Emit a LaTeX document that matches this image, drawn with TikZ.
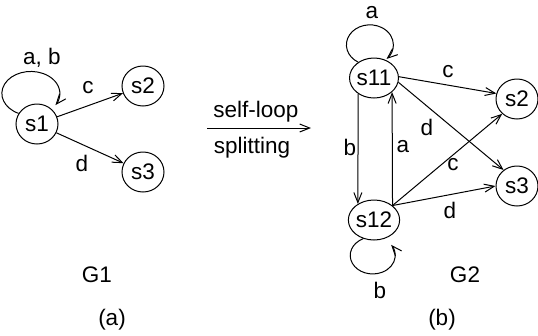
\documentclass[tikz,border=0pt]{standalone}
\usepackage{fontspec}
\setmainfont{Liberation Sans}
\usetikzlibrary{arrows.meta,shapes.geometric}

\tikzset{
  state/.style={draw, ellipse, minimum width=42pt, minimum height=40pt, inner sep=0pt,
    font=\fontsize{22.5}{27}\selectfont},
  lbl/.style={inner sep=0pt, font=\fontsize{22.5}{27}\selectfont},
  arr/.style={-{Straight Barb[length=10pt,width=8pt]}},
}

\begin{document}
\begin{tikzpicture}[x=1pt, y=-1pt, line width=1pt]
  \useasboundingbox (0,0) rectangle (538,335);

  % ---- G1 ----
  \node[state] (s1)  at (37,124) {s1};
  \node[state] (g1s2) at (143,86) {s2};
  \node[state] (g1s3) at (143,172) {s3};

  \draw[arr] (s1.150) arc[start angle=245, end angle=-32, x radius=29, y radius=-22];
  \draw[arr] (s1) -- (g1s2);
  \draw[arr] (s1) -- (g1s3);

  \node[lbl] (lab) at (42,58) {a, b};
  \node[lbl] (lc)  at (88,88) {c};
  \node[lbl] (ld)  at (82,163) {d};
  \node[lbl] (g1)  at (97,275) {G1};
  \node[lbl] (pa)  at (112,320) {(a)};

  % ---- transformation arrow ----
  \coordinate (tfrom) at (207,128);
  \coordinate (tto)   at (311,128);
  \draw[arr] (tfrom) -- (tto);
  \node[lbl] (tself)  at (256,112) {self-loop};
  \node[lbl] (tsplit) at (252,148) {splitting};

  % ---- G2 ----
  \node[state] (s11) at (374,78) {s11};
  \node[state] (s12) at (374,220) {s12};
  \node[state] (g2s2) at (517,99) {s2};
  \node[state] (g2s3) at (517,186) {s3};

  \draw[arr] (s11.135) arc[start angle=240, end angle=-45, x radius=23.5, y radius=-20];
  \draw[arr] (s12.240) arc[start angle=115, end angle=395, x radius=22.5, y radius=-18.5];

  \draw[arr] (s11.225) -- (s12.135);
  \draw[arr] (s12.38) -- (s11.-38);
  \draw[arr] (s11.3) -- (g2s2.165);
  \draw[arr] (s11.-10) -- (g2s3.130);
  \draw[arr] (s12.38) -- (g2s2.225);
  \draw[arr] (s12.38) -- (g2s3.180);

  \node[lbl] (la1) at (372,13) {a};
  \node[lbl] (lb1) at (350,147) {b};
  \node[lbl] (la2) at (403,147) {a};
  \node[lbl] (lc1) at (448,72) {c};
  \node[lbl] (ld1) at (427,127) {d};
  \node[lbl] (lc2) at (453,165) {c};
  \node[lbl] (ld2) at (450,210) {d};
  \node[lbl] (lb2) at (380,290) {b};
  \node[lbl] (g2)  at (465,275) {G2};
  \node[lbl] (pb)  at (442,320) {(b)};
\end{tikzpicture}
\end{document}
